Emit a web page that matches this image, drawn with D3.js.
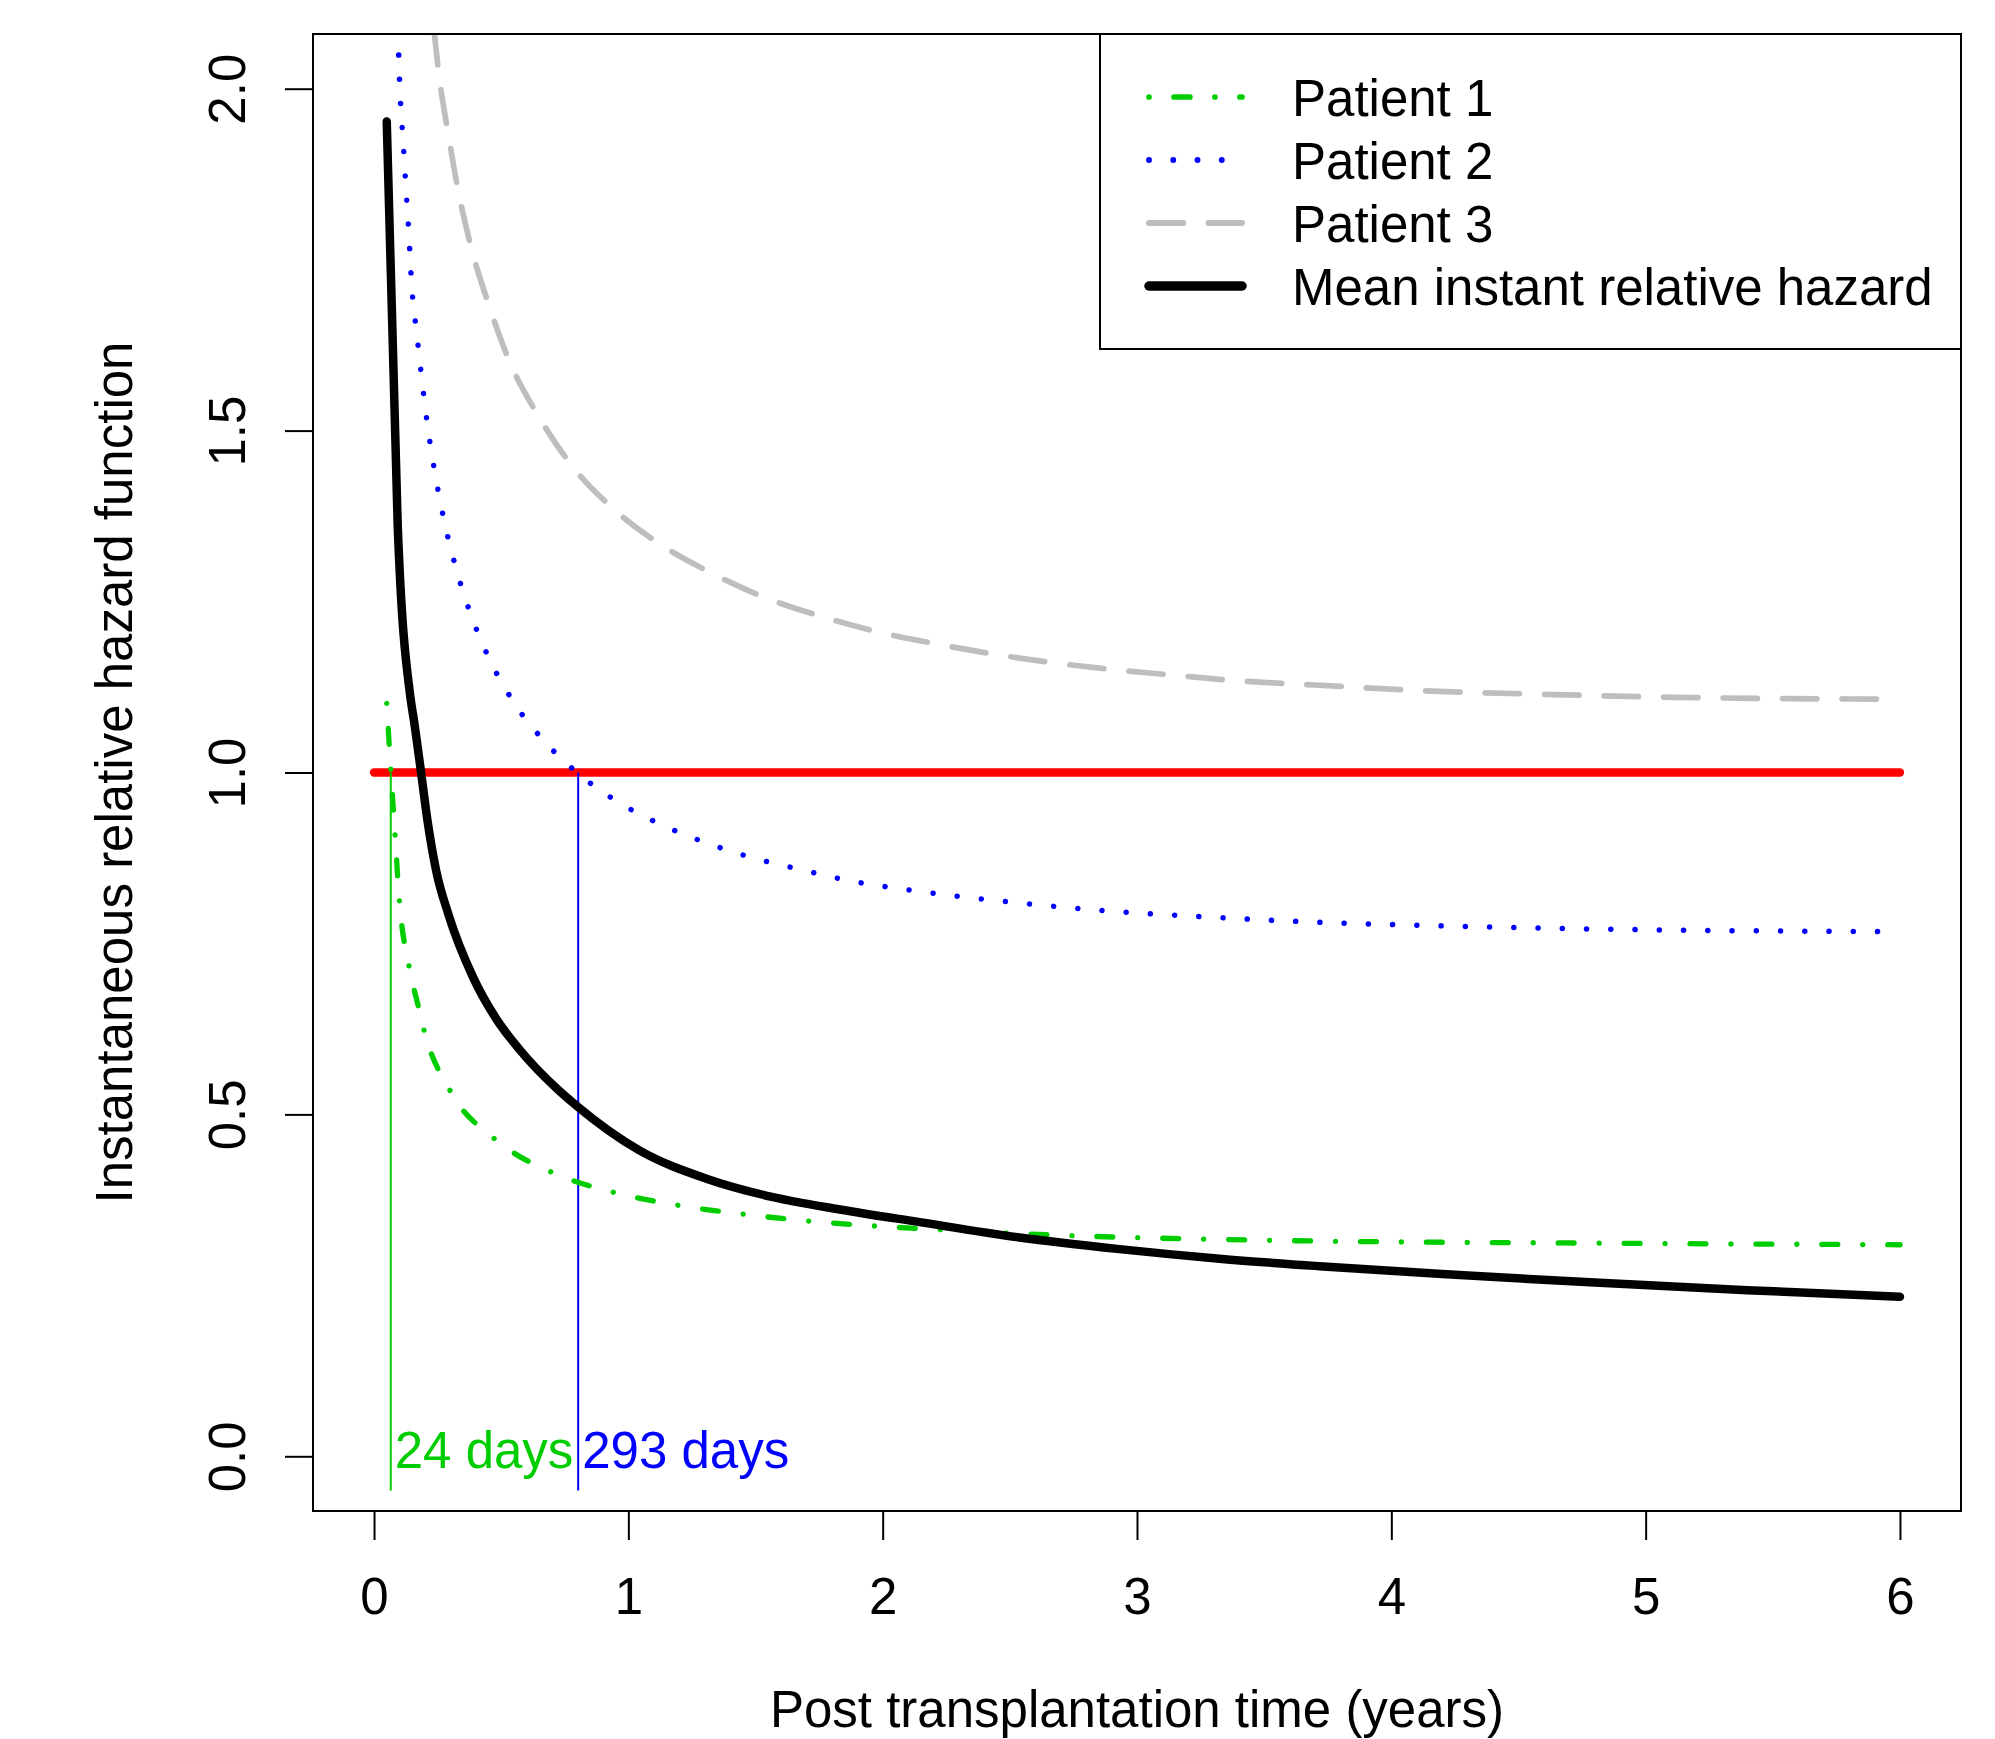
<!DOCTYPE html>
<html>
<head>
<meta charset="utf-8">
<script src="https://cdn.jsdelivr.net/npm/d3@7"></script>
<style>
  body { margin: 0; background: #fff; }
  text { font-family: "Liberation Sans", Arial, Helvetica, sans-serif; }
</style>
</head>
<body>
<svg id="chart" width="1995" height="1739"></svg>
<script>
// values (time in years, instantaneous relative hazard)
const p1Time = [0.05, 0.0655, 0.0825, 0.0995, 0.1375, 0.174, 0.1965, 0.2986, 0.4727, 0.6967, 0.943, 1.197, 1.454, 1.71, 1.971, 2.23, 2.489, 2.748, 3.007, 3.265, 3.525, 4.858, 6.0];
const p1Hazard = [1.101, 1.005, 0.909, 0.813, 0.717, 0.658, 0.623, 0.535, 0.4645, 0.4157, 0.386, 0.367, 0.354, 0.344, 0.3367, 0.3314, 0.3265, 0.3226, 0.3197, 0.3177, 0.3158, 0.3116, 0.3094];

const p2Time = [0.094, 0.102, 0.114, 0.1257, 0.1375, 0.148, 0.1677, 0.1886, 0.2122, 0.2424, 0.279, 0.326, 0.385, 0.4597, 0.554, 0.6732, 0.812, 0.968, 1.137, 1.3137, 1.494, 1.6805, 1.866, 2.149, 2.527, 2.906, 3.286, 3.667, 4.24, 4.812, 5.382, 6.0];
const p2Hazard = [2.085, 1.997, 1.926, 1.855, 1.784, 1.713, 1.643, 1.573, 1.5025, 1.432, 1.3626, 1.294, 1.2266, 1.1613, 1.10, 1.0443, 0.9956, 0.955, 0.9225, 0.8962, 0.8747, 0.8577, 0.842, 0.826, 0.8095, 0.797, 0.7885, 0.7817, 0.7753, 0.771, 0.7686, 0.7672];

const p3Time = [0.236, 0.254, 0.2895, 0.331, 0.384, 0.452, 0.534, 0.642, 0.773, 0.934, 1.124, 1.32, 1.536, 1.752, 1.988, 2.211, 2.447, 2.682, 2.918, 3.154, 3.383, 3.697, 4.162, 4.634, 5.105, 5.577, 6.0];
const p3Hazard = [2.085, 2.024, 1.9386, 1.851, 1.765, 1.683, 1.60, 1.524, 1.451, 1.388, 1.334, 1.293, 1.256, 1.229, 1.205, 1.188, 1.1725, 1.16, 1.15, 1.142, 1.1345, 1.128, 1.119, 1.114, 1.11, 1.108, 1.1072];

const meanTime = [0.05, 0.093, 0.143, 0.157, 0.185, 0.21, 0.244, 0.292, 0.39, 0.48, 0.574, 0.718, 0.795, 1.045, 1.307, 1.569, 1.831, 2.145, 2.538, 2.931, 3.324, 3.717, 4.2, 4.8, 5.4, 6.0];
const meanHazard = [1.952, 1.362, 1.11, 1.076, 1.0, 0.93, 0.857, 0.793, 0.70, 0.64, 0.594, 0.538, 0.513, 0.447, 0.406, 0.379, 0.361, 0.3425, 0.320, 0.303, 0.289, 0.278, 0.2665, 0.254, 0.243, 0.2333];

const refTime = [0, 6];
const refHazard = [1, 1];

const markerDays = [24, 293];
const markerLabels = ["24 days", "293 days"];
const markerColors = ["#00cd00", "#0000ff"];

const xTicks = [0, 1, 2, 3, 4, 5, 6];
const yTicks = [0, 0.5, 1, 1.5, 2];
const yTickLabels = ["0.0", "0.5", "1.0", "1.5", "2.0"];

const legendLabels = ["Patient 1", "Patient 2", "Patient 3", "Mean instant relative hazard"];

const svg = d3.select("#chart");
const fontSize = 51;

const plot = { left: 313, right: 1961, top: 34, bottom: 1511 };

// R style 4% padding around xlim = c(0, 6), ylim = c(0, 2)
const x = d3.scaleLinear().domain([-0.24, 6.24]).range([plot.left, plot.right]);
const y = d3.scaleLinear().domain([-0.08, 2.08]).range([plot.bottom, plot.top]);

svg.append("defs").append("clipPath")
    .attr("id", "plotClip")
    .append("rect")
    .attr("x", plot.left)
    .attr("y", plot.top)
    .attr("width", plot.right - plot.left)
    .attr("height", plot.bottom - plot.top);

const series = [
    { time: p1Time, hazard: p1Hazard, color: "#00cd00", width: 5.3, dash: "0.01,25,15.9,25" },
    { time: p2Time, hazard: p2Hazard, color: "#0000ff", width: 5.5, dash: "0.01,24.24" },
    { time: p3Time, hazard: p3Hazard, color: "#bebebe", width: 5.7, dash: "34.3,25.2" },
    { time: meanTime, hazard: meanHazard, color: "#000000", width: 8.5, dash: null }
];

const line = d3.line()
    .x(d => x(d[0]))
    .y(d => y(d[1]))
    .curve(d3.curveMonotoneX);

const lines = svg.append("g").attr("clip-path", "url(#plotClip)");

// reference line at hazard 1
lines.append("path")
    .datum(d3.zip(refTime, refHazard))
    .attr("d", d3.line().x(d => x(d[0])).y(d => y(d[1])))
    .attr("fill", "none")
    .attr("stroke", "#ff0000")
    .attr("stroke-width", 8.3)
    .attr("stroke-linecap", "round");

// vertical markers and their labels
markerDays.forEach((days, i) => {
    const t = days / 365;
    lines.append("line")
        .attr("x1", x(t)).attr("x2", x(t))
        .attr("y1", y(1)).attr("y2", y(-0.05))
        .attr("stroke", markerColors[i])
        .attr("stroke-width", 2);
    svg.append("text")
        .attr("x", x(t) + 4)
        .attr("y", y(0) + 12)
        .attr("fill", markerColors[i])
        .style("font-size", fontSize + "px")
        .text(markerLabels[i]);
});

series.forEach(s => {
    lines.append("path")
        .datum(d3.zip(s.time, s.hazard))
        .attr("d", line)
        .attr("fill", "none")
        .attr("stroke", s.color)
        .attr("stroke-width", s.width)
        .attr("stroke-linecap", "round")
        .attr("stroke-linejoin", "round")
        .attr("stroke-dasharray", s.dash);
});

// axes
const xAxis = svg.append("g")
    .attr("transform", `translate(0,${plot.bottom})`)
    .call(d3.axisBottom(x).tickValues(xTicks).tickFormat(d3.format("d")).tickSize(29).tickSizeOuter(0).tickPadding(38));
xAxis.select(".domain").remove();
xAxis.selectAll("line").attr("stroke-width", 2);
xAxis.selectAll("text")
    .style("font-size", fontSize + "px")
    .attr("fill", "#000");

const yAxis = svg.append("g")
    .attr("transform", `translate(${plot.left},0)`)
    .call(d3.axisLeft(y).tickValues(yTicks).tickFormat((d, i) => yTickLabels[i]).tickSize(28).tickSizeOuter(0));
yAxis.select(".domain").remove();
yAxis.selectAll("line").attr("stroke-width", 2);
yAxis.selectAll("text")
    .attr("transform", "rotate(-90)")
    .attr("x", 0)
    .attr("y", -68)
    .attr("dy", null)
    .attr("fill", "#000")
    .style("text-anchor", "middle")
    .style("font-size", fontSize + "px");

// plot box
svg.append("rect")
    .attr("x", plot.left)
    .attr("y", plot.top)
    .attr("width", plot.right - plot.left)
    .attr("height", plot.bottom - plot.top)
    .attr("fill", "none")
    .attr("stroke", "#000")
    .attr("stroke-width", 2);

// axis titles
svg.append("text")
    .attr("x", (plot.left + plot.right) / 2)
    .attr("y", 1727)
    .attr("text-anchor", "middle")
    .style("font-size", fontSize + "px")
    .text("Post transplantation time (years)");

svg.append("text")
    .attr("transform", `translate(132,${(plot.top + plot.bottom) / 2}) rotate(-90)`)
    .attr("text-anchor", "middle")
    .style("font-size", fontSize + "px")
    .text("Instantaneous relative hazard function");

// legend
const legend = svg.append("g");
legend.append("rect")
    .attr("x", 1100)
    .attr("y", plot.top)
    .attr("width", plot.right - 1100)
    .attr("height", 349 - plot.top)
    .attr("fill", "#fff")
    .attr("stroke", "#000")
    .attr("stroke-width", 2);

const rowY = d3.scalePoint().domain(legendLabels).range([97, 286]);

series.forEach((s, i) => {
    const yy = rowY(legendLabels[i]);
    legend.append("line")
        .attr("x1", 1149).attr("x2", 1242)
        .attr("y1", yy).attr("y2", yy)
        .attr("stroke", s.color)
        .attr("stroke-width", s.width + (i === 3 ? 1 : 0.4))
        .attr("stroke-linecap", "round")
        .attr("stroke-dasharray", s.dash);
    legend.append("text")
        .attr("x", 1292)
        .attr("y", yy + 18.5)
        .style("font-size", fontSize + "px")
        .text(legendLabels[i]);
});
</script>
</body>
</html>
